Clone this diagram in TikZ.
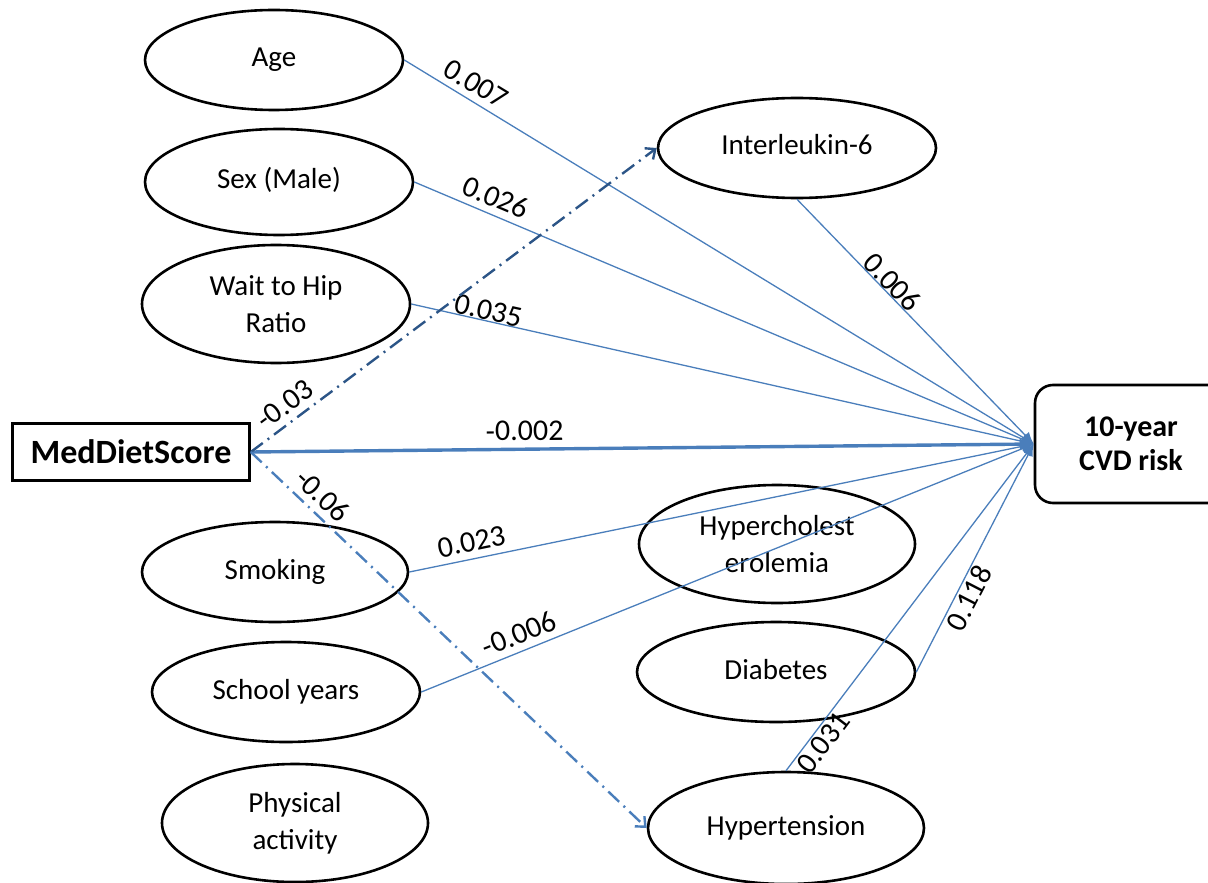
\documentclass[tikz,border=0pt]{standalone}
\usepackage{fontspec}
\setmainfont{Carlito}
\usetikzlibrary{arrows.meta,positioning,shapes.geometric}
\definecolor{pathblue}{RGB}{74,126,187}
\definecolor{pathdark}{RGB}{44,85,135}

\begin{document}
\begin{tikzpicture}[
    x=0.5pt,y=-0.5pt,
    var/.style={ellipse,draw,line width=1.3pt,inner sep=0pt,align=center,
      font=\fontsize{14.5}{18.5}\selectfont},
    oneline/.style={text height=0.9em,text depth=0.2em},
    score/.style={rectangle,draw,line width=1.3pt,inner sep=0pt,align=center,
      minimum width=118.5pt,minimum height=28.5pt,font=\bfseries\fontsize{17}{20}\selectfont},
    outcome/.style={rectangle,rounded corners=9pt,draw,line width=1.3pt,inner sep=0pt,align=center,
      minimum width=96pt,minimum height=59pt,font=\bfseries\fontsize{15}{17}\selectfont},
    link/.style={draw=pathblue,line width=0.65pt,-{Latex[length=6pt,width=5pt]}},
    mainlink/.style={draw=pathblue,line width=1.7pt,-{Latex[length=7pt,width=6pt]}},
    medlink/.style={line width=1.2pt,dash pattern=on 7.5pt off 3pt on 1pt off 3pt,
      -{Straight Barb[length=4pt,width=7pt,line width=1.2pt]}},
    coef/.style={font=\fontsize{15}{17}\selectfont,sloped}
  ]
    \useasboundingbox (0,0) rectangle (1208,882);

    % predictors on the left
    \node[var,oneline,minimum width=129pt,minimum height=50pt] (age) at (274,60) {Age};
    \node[var,oneline,minimum width=134pt,minimum height=53pt] (sex) at (279,182) {Sex (Male)};
    \node[var,minimum width=134pt,minimum height=59pt] (whr) at (276,304) {Wait to Hip\\Ratio};
    \node[score] (mds) at (131,452) {MedDietScore};
    \node[var,oneline,minimum width=133pt,minimum height=50pt] (smoke) at (275,572) {Smoking};
    \node[var,oneline,minimum width=134pt,minimum height=50pt] (school) at (286,692) {School years};
    \node[var,minimum width=133pt,minimum height=59pt] (phys) at (295,823) {Physical\\activity};

    % mediators and outcome
    \node[var,oneline,minimum width=139pt,minimum height=50pt] (il6) at (797,148) {Interleukin-6};
    \node[var,minimum width=138pt,minimum height=59pt] (hchol) at (777,544) {Hypercholest\\erolemia};
    \node[var,oneline,minimum width=139pt,minimum height=50pt] (diab) at (776,672) {Diabetes};
    \node[var,oneline,minimum width=138pt,minimum height=56pt] (htn) at (786,828) {Hypertension};
    \node[outcome] (cvd) at (1131,444) {10-year\\CVD risk};

    % direct effects
    \draw[link] (age.east) -- node[coef,pos=0.10,above] {0.007} (cvd.west);
    \draw[link] (sex.east) -- node[coef,pos=0.12,above] {0.026} (cvd.west);
    \draw[link] (whr.east) -- node[coef,pos=0.12,above,inner sep=0pt] {0.035} (cvd.west);
    \draw[mainlink] (mds.east) -- node[coef,pos=0.35,above] {-0.002} (cvd.west);
    \draw[link] (smoke.east) -- node[coef,pos=0.105,above] {0.023} (cvd.west);
    \draw[link] (school.east) -- node[coef,pos=0.17,above] {-0.006} (cvd.west);
    \draw[link] (il6.south) -- node[coef,pos=0.37,above,inner sep=0pt] {0.006} (cvd.west);
    \draw[link] (diab.east) -- node[coef,pos=0.35,below,inner sep=1pt] {0.118} (cvd.west);
    \draw[link] (htn.north) -- node[coef,pos=0.11,below,inner sep=1pt] {0.031} (cvd.west);

    % MedDietScore to mediators
    \draw[medlink,draw=pathdark] (mds.east) -- node[coef,pos=0.11,above] {-0.03} (il6.west);
    \draw[medlink,draw=pathblue] (mds.east) -- node[coef,pos=0.15,above] {-0.06} (htn.west);
  \end{tikzpicture}
\end{document}
